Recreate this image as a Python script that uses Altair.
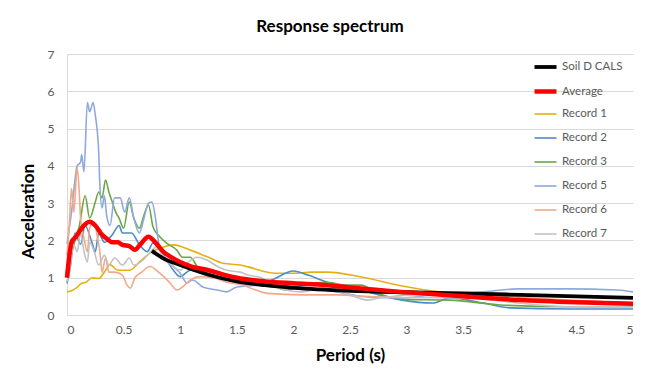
import altair as alt
import pandas as pd

# ---------------- data ----------------
series_names = ["Soil D CALS", "Average", "Record 1", "Record 2", "Record 3",
                "Record 5", "Record 6", "Record 7"]
series_colors = ["#000000", "#FF0000", "#E6B012", "#4E8BC8", "#6BA844",
                 "#8FA9DC", "#F2A98A", "#C3C3C3"]
series_widths = [3.8, 4.5, 1.6, 1.6, 1.6, 1.6, 1.6, 1.6]

x_ticks = [0, 0.5, 1, 1.5, 2, 2.5, 3, 3.5, 4, 4.5, 5]
y_ticks = [0, 1, 2, 3, 4, 5, 6, 7]

t_cals = [0.75, 0.85, 1.0, 1.25, 1.5, 1.75, 2.0, 2.5, 3.0, 3.5, 4.0, 4.5, 5.0]
a_cals = [1.72, 1.52, 1.34, 1.08, 0.9, 0.8, 0.73, 0.65, 0.61, 0.58, 0.54, 0.5, 0.46]

t_avg = [0, 0.04, 0.08, 0.13, 0.2, 0.25, 0.31, 0.35, 0.4, 0.45, 0.49, 0.55, 0.6,
         0.65, 0.72, 0.78, 0.85, 0.92, 1.0, 1.1, 1.25, 1.4, 1.5, 1.75, 2.0, 2.3,
         2.5, 2.95, 3.5, 4.0, 4.5, 5.0]
a_avg = [1.0, 1.95, 2.1, 2.33, 2.5, 2.4, 2.15, 2.05, 1.95, 1.95, 1.88, 1.85, 1.75,
         1.9, 2.1, 1.95, 1.7, 1.55, 1.42, 1.3, 1.2, 1.07, 1.0, 0.9, 0.85, 0.8,
         0.74, 0.62, 0.5, 0.4, 0.34, 0.3]

t_r1 = [0, 0.04, 0.08, 0.13, 0.17, 0.22, 0.28, 0.33, 0.38, 0.45, 0.55, 0.65,
        0.75, 0.85, 0.94, 1.09, 1.24, 1.38, 1.53, 1.6, 1.84, 2.0, 2.16, 2.3,
        2.6, 2.96, 3.38, 3.83, 4.42, 5.0]
a_r1 = [0.62, 0.65, 0.72, 0.85, 0.88, 1.0, 0.98, 1.15, 1.35, 1.2, 1.2, 1.45,
        1.7, 1.82, 1.88, 1.74, 1.56, 1.39, 1.34, 1.29, 1.12, 1.12, 1.15, 1.15,
        1.02, 0.78, 0.58, 0.46, 0.35, 0.27]

t_r2 = [0, 0.03, 0.07, 0.12, 0.16, 0.22, 0.25, 0.28, 0.33, 0.4, 0.46, 0.49,
        0.57, 0.64, 0.71, 0.76, 0.88, 0.94, 1.0, 1.09, 1.29, 1.41, 1.53, 1.66,
        1.81, 2.0, 2.13, 2.3, 2.52, 2.66, 2.96, 3.23, 3.38, 3.68, 3.91, 4.42, 5.0]
a_r2 = [0.85, 1.3, 2.2, 1.9, 2.4, 1.95, 1.7, 2.2, 1.95, 2.15, 2.4, 2.2,
        2.2, 1.88, 1.7, 1.93, 1.47, 1.2, 1.03, 1.2, 1.03, 0.94, 0.86, 0.8,
        0.94, 1.18, 1.07, 0.88, 0.75, 0.62, 0.4, 0.32, 0.46, 0.32, 0.19, 0.16, 0.16]

t_r3 = [0, 0.06, 0.11, 0.16, 0.2, 0.25, 0.28, 0.31, 0.34, 0.37, 0.4, 0.43,
        0.46, 0.5, 0.55, 0.59, 0.64, 0.68, 0.72, 0.76, 0.82, 0.88, 0.97, 1.02,
        1.09, 1.15, 1.19, 1.24, 1.35, 1.53, 1.66, 1.84, 1.93, 2.08, 2.3, 2.46,
        2.6, 2.72, 2.96, 3.38, 3.83, 4.42, 5.0]
a_r3 = [1.15, 1.88, 2.4, 3.2, 2.6, 3.03, 3.3, 3.14, 3.62, 3.3, 3.03, 2.76,
        2.6, 2.33, 3.03, 2.6, 2.33, 2.68, 2.95, 2.36, 2.1, 1.93, 1.74, 1.55,
        1.55, 1.3, 1.2, 1.12, 1.03, 0.9, 0.86, 0.75, 0.67, 0.8, 0.88, 0.8,
        0.8, 0.62, 0.42, 0.4, 0.27, 0.22, 0.22]

t_r5 = [0, 0.04, 0.09, 0.12, 0.13, 0.15, 0.18, 0.2, 0.23, 0.25, 0.28, 0.29,
        0.31, 0.33, 0.35, 0.38, 0.42, 0.47, 0.51, 0.55, 0.59, 0.64, 0.68, 0.72,
        0.75, 0.78, 0.81, 0.84, 0.89, 0.94, 1.0, 1.06, 1.11, 1.2, 1.33, 1.41,
        1.5, 1.78, 2.08, 2.38, 2.67, 2.96, 3.23, 3.68, 3.98, 4.42, 4.86, 5.0]
a_r5 = [1.9, 2.76, 4.0, 4.1, 4.3, 3.84, 5.7, 5.45, 5.7, 5.36, 4.37, 3.5,
        2.87, 3.2, 2.68, 2.4, 3.14, 3.14, 2.76, 3.14, 2.6, 2.2, 2.6, 3.0,
        3.03, 2.63, 1.93, 1.66, 1.47, 1.3, 1.12, 0.86, 0.94, 0.75, 0.67, 0.62,
        0.75, 0.8, 0.75, 0.62, 0.48, 0.46, 0.54, 0.62, 0.7, 0.7, 0.67, 0.62]

t_r6 = [0, 0.02, 0.04, 0.06, 0.09, 0.11, 0.12, 0.15, 0.18, 0.2, 0.24, 0.27,
        0.29, 0.31, 0.34, 0.37, 0.42, 0.49, 0.53, 0.56, 0.6, 0.66, 0.73, 0.82,
        0.91, 0.97, 1.02, 1.09, 1.18, 1.29, 1.41, 1.53, 1.77, 2.08, 2.37, 2.81,
        3.0, 3.53, 3.98, 4.42, 5.0]
a_r6 = [1.6, 2.4, 3.4, 2.76, 3.94, 3.2, 2.6, 2.06, 1.7, 2.33, 2.5, 2.06,
        1.7, 1.15, 1.53, 1.15, 1.15, 1.07, 0.8, 0.72, 1.0, 1.15, 1.3, 1.12,
        0.86, 0.67, 0.75, 0.94, 1.03, 1.0, 0.88, 0.82, 0.58, 0.54, 0.54, 0.48,
        0.54, 0.56, 0.48, 0.4, 0.32]

t_r7 = [0, 0.02, 0.06, 0.09, 0.12, 0.15, 0.18, 0.2, 0.24, 0.28, 0.33, 0.37,
        0.42, 0.49, 0.55, 0.59, 0.65, 0.73, 0.79, 0.85, 0.94, 1.0, 1.06, 1.15,
        1.24, 1.33, 1.41, 1.53, 1.6, 1.72, 1.81, 1.93, 2.08, 2.25, 2.37, 2.55,
        2.66, 2.81, 3.0, 3.53, 3.98, 4.42, 5.0]
a_r7 = [0.9, 1.15, 1.88, 1.7, 2.2, 1.7, 1.42, 1.95, 1.7, 1.34, 1.6, 1.34,
        1.53, 1.34, 1.53, 1.34, 1.42, 1.66, 1.83, 1.55, 1.3, 1.2, 1.39, 1.55,
        1.47, 1.3, 1.2, 1.15, 1.07, 1.0, 0.8, 0.67, 0.62, 0.72, 0.67, 0.48,
        0.4, 0.48, 0.47, 0.46, 0.32, 0.22, 0.24]

series_data = {
    "Soil D CALS": (t_cals, a_cals),
    "Average": (t_avg, a_avg),
    "Record 1": (t_r1, a_r1),
    "Record 2": (t_r2, a_r2),
    "Record 3": (t_r3, a_r3),
    "Record 5": (t_r5, a_r5),
    "Record 6": (t_r6, a_r6),
    "Record 7": (t_r7, a_r7),
}

rows = []
for name, (ts, accs) in series_data.items():
    for t, a in zip(ts, accs):
        rows.append({"series": name, "period": t, "accel": a})
df = pd.DataFrame(rows)

FONT = "Lato"
LABEL_COLOR = "#595959"


def make_legend():
    return alt.Legend(title=None, orient="none", legendX=465, legendY=0,
                      symbolType="stroke", symbolSize=484, rowPadding=1,
                      gridAlign="all",
                      labelFontSize=11.5, labelColor=LABEL_COLOR, labelFont=FONT,
                      labelOffset=3)


color_enc = alt.Color(
    "series:N",
    scale=alt.Scale(domain=series_names, range=series_colors),
    legend=make_legend(),
)
width_enc = alt.StrokeWidth(
    "series:N",
    scale=alt.Scale(type="ordinal", domain=series_names, range=series_widths),
    legend=make_legend(),
)

x_enc = alt.X(
    "period:Q",
    scale=alt.Scale(domain=[0, 5], nice=False),
    axis=alt.Axis(title="Period (s)", values=x_ticks, format="~g", grid=False,
                  ticks=False, labelPadding=9, titleY=40, titleBaseline="middle",
                  domainColor="#D9D9D9"),
)
y_enc = alt.Y(
    "accel:Q",
    scale=alt.Scale(domain=[0, 7], nice=False),
    axis=alt.Axis(title="Acceleration", values=y_ticks, grid=True,
                  gridColor="#D9D9D9", ticks=False, labelPadding=13,
                  titleX=-39, titleY=157, titleBaseline="middle",
                  domainColor="#D9D9D9"),
)

base = alt.Chart(df).mark_line(interpolate="monotone").encode(
    x=x_enc, y=y_enc, color=color_enc, strokeWidth=width_enc
)

records = base.transform_filter(
    alt.FieldOneOfPredicate(field="series", oneOf=series_names[2:])
)
cals = base.transform_filter(alt.datum.series == "Soil D CALS")
avg = base.transform_filter(alt.datum.series == "Average")

chart = alt.layer(records, cals, avg).properties(
    width=566,
    height=261,
    title=alt.TitleParams("Response spectrum", fontSize=17, font=FONT,
                          fontWeight="bold", color="#000000", offset=12,
                          anchor="middle", dx=-20),
    autosize=alt.AutoSizeParams(type="none"),
    padding={"left": 59, "top": 46, "right": 19, "bottom": 60},
).configure_view(stroke=None).configure_axis(
    labelFont=FONT, labelFontSize=12, labelColor=LABEL_COLOR,
    titleFont=FONT, titleFontSize=17, titleFontWeight="bold", titleColor="#000000",
)

chart.save("out.html", embed_options={"renderer": "svg", "actions": False})
